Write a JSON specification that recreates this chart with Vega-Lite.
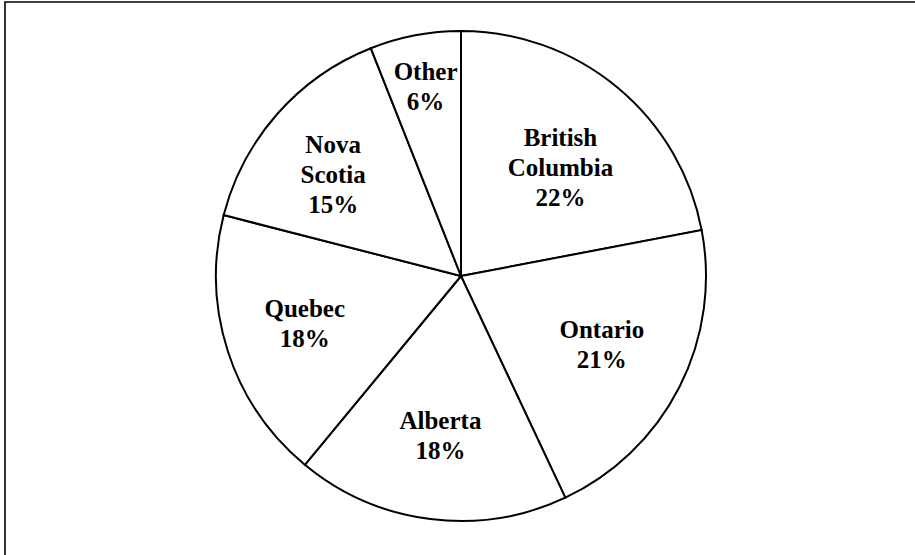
{
  "$schema": "https://vega.github.io/schema/vega-lite/v6.json",
  "width": 912,
  "height": 556,
  "autosize": {"type": "none"},
  "padding": {"left": 5, "top": 2, "right": 0, "bottom": 0},
  "background": "white",
  "view": {"stroke": "#000", "strokeWidth": 1.6, "fill": "white"},
  "data": {"values": [
    {"region": "British Columbia", "share": 22, "rank": 1},
    {"region": "Ontario", "share": 21, "rank": 2},
    {"region": "Alberta", "share": 18, "rank": 3},
    {"region": "Quebec", "share": 18, "rank": 4},
    {"region": "Nova Scotia", "share": 15, "rank": 5},
    {"region": "Other", "share": 6, "rank": 6}
  ]},
  "transform": [
    {"calculate": "split(replace(datum.region, ' ', '|') + '|' + datum.share + '%', '|')", "as": "lines"}
  ],
  "encoding": {
    "theta": {"field": "share", "type": "quantitative", "stack": true},
    "order": {"field": "rank", "type": "quantitative", "sort": "ascending"}
  },
  "layer": [
    {
      "mark": {"type": "arc", "outerRadius": 245, "fill": "white", "stroke": "black", "strokeWidth": 2, "yOffset": -4}
    },
    {
      "mark": {"type": "text", "font": "Liberation Serif", "fontWeight": "bold", "fontSize": 25, "lineHeight": 30, "baseline": "middle", "align": "center", "color": "black", "yOffset": -22},
      "encoding": {
        "text": {"field": "lines", "type": "nominal"},
        "radius": {"field": "share", "type": "quantitative", "stack": false, "scale": {"type": "linear", "zero": false, "domain": [6, 22], "range": [189, 156]}}
      }
    }
  ]
}
